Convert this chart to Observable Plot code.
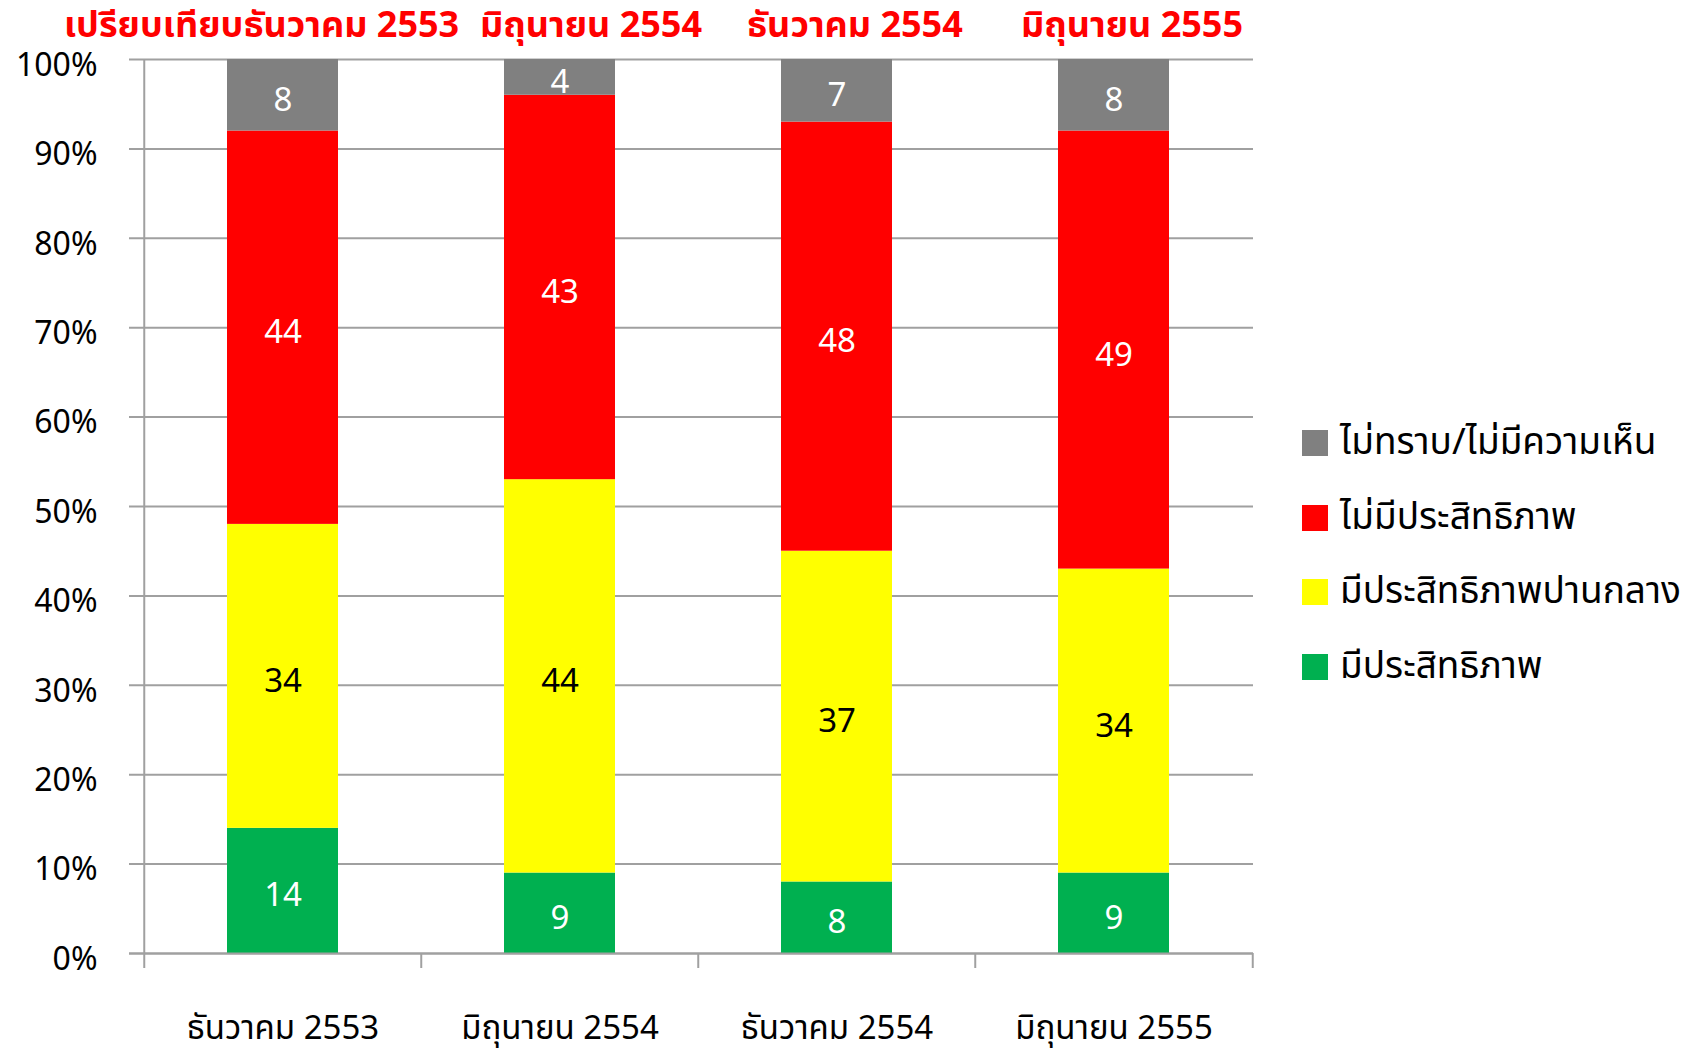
<!DOCTYPE html>
<html><head><meta charset="utf-8">
<script src="https://cdn.jsdelivr.net/npm/d3@7"></script>
<script src="https://cdn.jsdelivr.net/npm/@observablehq/plot@0.6"></script>
<style>
body{margin:0;background:#fff;}
#wrap{position:relative;width:1685px;height:1054px;font-family:"Noto Sans Thai","Noto Sans","DejaVu Sans",sans-serif;}
.tpart{position:absolute;top:13px;color:#ff0000;font-weight:bold;font-size:36px;white-space:pre;line-height:26px;}
#chart{position:absolute;left:0;top:0;}
#legend{position:absolute;left:1302px;top:406px;font-size:37px;white-space:nowrap;}
.row{display:flex;align-items:center;height:74.5px;}
.sw{width:26px;height:26px;margin-right:12px;flex:none;}
</style></head><body>
<div id="wrap"><div id="chart"></div><div id="title"></div><div id="legend"></div></div>
<script>
const categories = ["ธันวาคม 2553","มิถุนายน 2554","ธันวาคม 2554","มิถุนายน 2555"];
const seriesNames = ["มีประสิทธิภาพ","มีประสิทธิภาพปานกลาง","ไม่มีประสิทธิภาพ","ไม่ทราบ/ไม่มีความเห็น"];
const seriesColors = ["#00B050","#FFFF00","#FF0000","#808080"];
const effective = [14,9,8,9];
const moderate = [34,44,37,34];
const ineffective = [44,43,48,49];
const unknown = [8,4,7,8];
const titleParts = ["เปรียบเทียบธันวาคม 2553","มิถุนายน 2554","ธันวาคม 2554","มิถุนายน 2555"];
const yTicks = [0,10,20,30,40,50,60,70,80,90,100];

const seriesValues = [effective, moderate, ineffective, unknown];
const rows = [];
seriesNames.forEach((s, i) => categories.forEach((c, j) => rows.push({cat: c, series: s, value: seriesValues[i][j]})));

const W = 1685, H = 1054, ML = 143, MR = 432, MT = 59, MB = 101;
const step = (W - ML - MR) / categories.length;
const gray = "#a0a0a0";
const font = '"Noto Sans Thai","Noto Sans","DejaVu Sans",sans-serif';

const chart = Plot.plot({
  width: W, height: H,
  marginLeft: ML, marginRight: MR, marginTop: MT, marginBottom: MB,
  style: {fontFamily: font, background: "white", color: "black"},
  x: {domain: categories, paddingInner: 0.6, paddingOuter: 0.3, axis: null, label: null},
  y: {domain: [0, 100], axis: null, label: null},
  color: {domain: seriesNames, range: seriesColors},
  marks: [
    Plot.gridY(yTicks, {stroke: gray, strokeOpacity: 1, strokeWidth: 2, insetLeft: -14}),
    Plot.axisY(yTicks, {tickSize: 0, tickPadding: 46, tickFormat: d => d + "%", fontSize: 32, fill: "black", label: null, dy: 6}),
    Plot.ruleX([categories[0]], {x: d => d, dx: -step / 2, y1: 100, y2: 0, insetBottom: -15, stroke: gray, strokeWidth: 2}),
    Plot.ruleX(categories.slice(1), {x: d => d, dx: -step / 2, y1: 0, y2: 0, insetBottom: -15, stroke: gray, strokeWidth: 2}),
    Plot.ruleX([categories[categories.length - 1]], {x: d => d, dx: step / 2, y1: 0, y2: 0, insetBottom: -15, stroke: gray, strokeWidth: 2}),
    Plot.barY(rows, {x: "cat", y: "value", fill: "series"}),
    Plot.ruleY([0], {stroke: gray, strokeWidth: 2, insetLeft: -14}),
    Plot.text(rows, Plot.stackY({x: "cat", y: "value", text: "value", fill: d => d.series === seriesNames[1] ? "black" : "white", fontSize: 33, dy: 5})),
    Plot.axisX({tickSize: 0, tickPadding: 62, fontSize: 33, fill: "black", label: null})
  ]
});
document.getElementById("chart").appendChild(chart);

const titleLefts = [64, 480, 747, 1021];
const title = document.getElementById("title");
titleParts.forEach((p, i) => {
  const s = document.createElement("div"); s.className = "tpart";
  s.style.left = titleLefts[i] + "px"; s.textContent = p; title.appendChild(s);
});

const legend = document.getElementById("legend");
for (let i = seriesNames.length - 1; i >= 0; i--) {
  const r = document.createElement("div"); r.className = "row";
  const sw = document.createElement("div"); sw.className = "sw"; sw.style.background = seriesColors[i];
  const t = document.createElement("span"); t.textContent = seriesNames[i];
  r.appendChild(sw); r.appendChild(t); legend.appendChild(r);
}
</script>
</body></html>
